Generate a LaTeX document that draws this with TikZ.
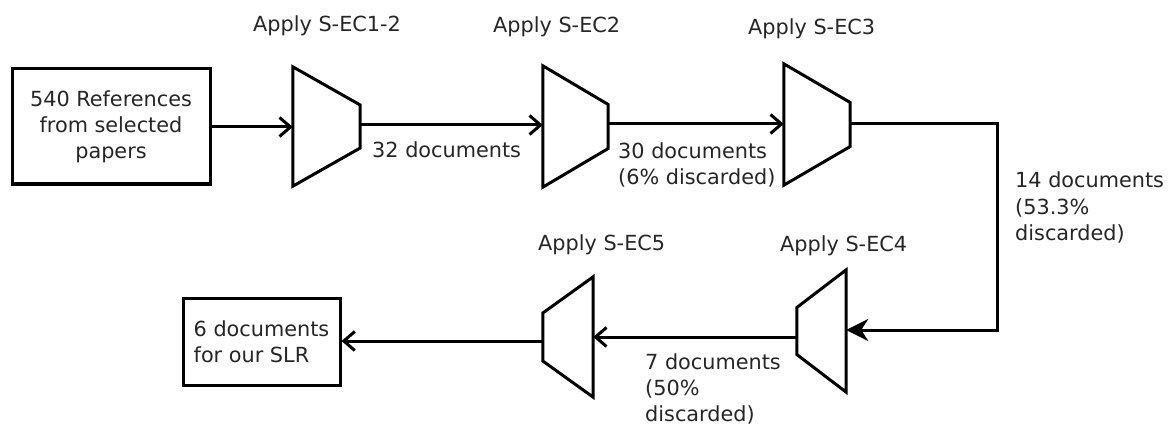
\documentclass[tikz,border=0pt]{standalone}
\usepackage{fontspec}
\setmainfont{DejaVu Sans}
\usetikzlibrary{arrows.meta,calc}
\begin{document}
\begin{tikzpicture}[x=1pt,y=-1pt,
  every node/.style={font=\fontsize{20.8}{26}\selectfont, text=black!85},
  box/.style={draw, line width=3pt, inner sep=0pt},
  funnel/.style={draw=none, inner sep=0pt},
  shape line/.style={line width=3pt, line join=miter},
  flow/.style={line width=3pt, -{Straight Barb[length=11pt,width=19pt]}},
  bigflow/.style={line width=3pt, -{Stealth[length=22pt,width=22pt,inset=7pt]}},
  lbl/.style={inner sep=0pt, anchor=base west, align=left}]
\useasboundingbox (0,0) rectangle (1173,425);

% source and result boxes
\node[box, minimum width=198pt, minimum height=115pt, align=center] (src) at (111,126.5)
  {540 References\\from selected\\papers};
\node[box, minimum width=157pt, minimum height=87pt, align=left] (res) at (261.5,341.5)
  {6 documents\\for our SLR};

% filter stages (bounding areas of the funnels)
\node[funnel, minimum width=67pt, minimum height=119pt] (f1) at (326.5,126.5) {};
\node[funnel, minimum width=65pt, minimum height=121pt] (f2) at (575.5,126.5) {};
\node[funnel, minimum width=66pt, minimum height=121pt] (f3) at (817,124.5) {};
\node[funnel, minimum width=49pt, minimum height=122pt] (f4) at (821.5,331) {};
\node[funnel, minimum width=50pt, minimum height=120pt] (f5) at (568,337) {};

% funnels narrowing to the right
\foreach \f/\h in {f1/21.5, f2/22, f3/22}
  \draw[shape line] (\f.north west) -- ([yshift=\h pt]\f.east) -- ([yshift=-\h pt]\f.east)
    -- (\f.south west) -- cycle;
% funnels narrowing to the left
\foreach \f/\h in {f4/23.5, f5/24}
  \draw[shape line] (\f.north east) -- ([yshift=\h pt]\f.west) -- ([yshift=-\h pt]\f.west)
    -- (\f.south east) -- cycle;

% stage titles
\node[lbl] (t1) at (253,32) {Apply S-EC1-2};
\node[lbl] (t2) at (493,33) {Apply S-EC2};
\node[lbl] (t3) at (748,35) {Apply S-EC3};
\node[lbl] (t4) at (780,251) {Apply S-EC4};
\node[lbl] (t5) at (538,250) {Apply S-EC5};

% connectors
\coordinate (c1) at (997,124);
\coordinate (c2) at (997,330);
\draw[flow] (src.east |- 0,127) -- (f1.west |- 0,127);
\draw[flow] (f1.east |- 0,125) -- (f2.west |- 0,125);
\draw[flow] (f2.east |- 0,124) -- (f3.west |- 0,124);
\draw[bigflow, line join=miter] (f3.east |- c1) -- (c1) -- (c2) -- (f4.east |- c2);
\draw[flow] (f4.west |- 0,337) -- (f5.east |- 0,337);
\draw[flow] (f5.west |- 0,341) -- (res.east |- 0,341);

% counts after each stage (anchored on the last line's baseline)
\node[lbl] (n1) at (372,158) {32 documents};
\node[lbl] (n2) at (618,185) {30 documents\\(6\% discarded)};
\node[lbl] (n3) at (1015,240) {14 documents\\(53.3\%\\discarded)};
\node[lbl] (n4) at (645,421) {7 documents\\(50\%\\discarded)};
\end{tikzpicture}
\end{document}
